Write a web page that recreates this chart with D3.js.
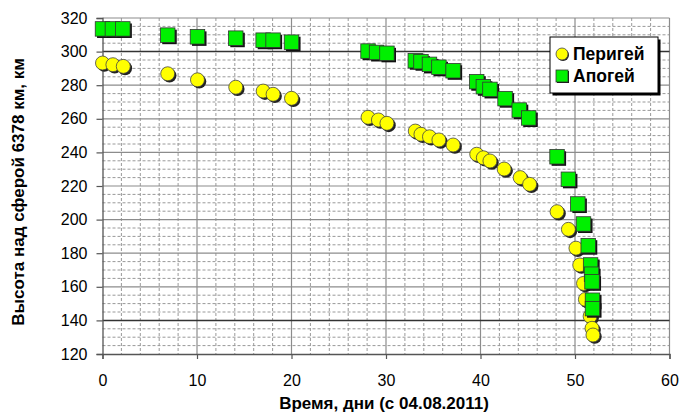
<!DOCTYPE html>
<html>
<head>
<meta charset="utf-8">
<script src="https://cdn.jsdelivr.net/npm/d3@7"></script>
<style>
  body { margin: 0; background: #fff; }
  svg { display: block; font-family: "Liberation Sans", Arial, sans-serif; }
</style>
</head>
<body>
<svg id="chart" width="680" height="414"></svg>
<script>
// ---- data ----
const perigeeDays = [0, 1.1, 2.2, 6.9, 10.05, 14.1, 17.0, 18.05, 20.0, 28.1, 29.2, 30.1, 33.1, 33.7, 34.6, 35.6, 37.1, 39.6, 40.3, 41.0, 42.5, 44.2, 45.2, 48.1, 49.3, 50.1, 50.5, 50.9, 51.1, 51.6, 51.8, 51.9];
const perigeeAlt  = [293.2, 292.2, 291.2, 286.8, 283.2, 278.8, 276.5, 274.6, 272.2, 260.9, 259.3, 257.3, 252.7, 250.8, 249.3, 247.4, 244.4, 238.9, 236.8, 234.9, 230.1, 225, 221, 204.7, 194.2, 183, 173, 162, 152.5, 142.5, 135.3, 131.3];
const apogeeDays = [0, 1.05, 2.15, 6.9, 10.05, 14.1, 17.0, 18.05, 20.0, 28.1, 29.0, 30.1, 33.1, 33.7, 34.6, 35.6, 37.1, 39.6, 40.3, 41.0, 42.6, 44.1, 45.1, 48.1, 49.3, 50.3, 50.9, 51.4, 51.65, 51.75, 51.8, 51.85, 51.85];
const apogeeAlt  = [313.5, 313.5, 313.5, 309.8, 308.8, 308, 306.8, 306.8, 305.6, 300.3, 299.5, 299, 294.6, 294, 292.4, 290.7, 288.6, 282.1, 279.1, 277.5, 272, 265.2, 260.5, 237.4, 224, 209.3, 197.4, 184.5, 173, 167.5, 163, 152, 147];
const xTicks = [0, 10, 20, 30, 40, 50, 60];
const yTicks = [120, 140, 160, 180, 200, 220, 240, 260, 280, 300, 320];
const xMinor = d3.range(0, 61, 2);
const yMinor = d3.range(120, 321, 5);
const darkLines = [300, 140];
const seriesNames = ["Перигей", "Апогей"];
const xTitle = "Время, дни (с 04.08.2011)";
const yTitle = "Высота над сферой 6378 км, км";

// ---- layout ----
const svg = d3.select("#chart");
const L = 102.5, R = 669.5, T = 18, B = 354;
const x = d3.scaleLinear().domain([0, 60]).range([L, R]);
const y = d3.scaleLinear().domain([120, 320]).range([B, T]);

const grid = svg.append("g");
// minor dashed
grid.selectAll("line.vm").data(xMinor.filter(v => v % 10 !== 0)).join("line")
  .attr("x1", d => x(d)).attr("x2", d => x(d)).attr("y1", T).attr("y2", B)
  .attr("stroke", "#999").attr("stroke-width", 1).attr("stroke-dasharray", "3,2");
grid.selectAll("line.hm").data(yMinor.filter(v => v % 20 !== 0)).join("line")
  .attr("y1", d => y(d)).attr("y2", d => y(d)).attr("x1", L).attr("x2", R)
  .attr("stroke", "#999").attr("stroke-width", 1).attr("stroke-dasharray", "3,2");
// major solid
grid.selectAll("line.vM").data(xTicks.slice(1)).join("line")
  .attr("x1", d => x(d)).attr("x2", d => x(d)).attr("y1", T).attr("y2", B)
  .attr("stroke", "#8c8c8c").attr("stroke-width", 1.2);
grid.selectAll("line.hM").data(yTicks.slice(1).filter(v => !darkLines.includes(v))).join("line")
  .attr("y1", d => y(d)).attr("y2", d => y(d)).attr("x1", L).attr("x2", R)
  .attr("stroke", "#8c8c8c").attr("stroke-width", 1.2);
grid.selectAll("line.hD").data(darkLines).join("line")
  .attr("y1", d => y(d)).attr("y2", d => y(d)).attr("x1", L).attr("x2", R)
  .attr("stroke", "#333").attr("stroke-width", 1.5);

// axes
const xAxis = svg.append("g").attr("transform", `translate(0,${B})`)
  .call(d3.axisBottom(x).tickValues(xTicks).tickSize(5).tickPadding(16).tickFormat(d3.format("d")));
const yAxis = svg.append("g").attr("transform", `translate(${L},0)`)
  .call(d3.axisLeft(y).tickValues(yTicks).tickSize(6).tickPadding(9).tickFormat(d3.format("d")));
[xAxis, yAxis].forEach(a => {
  a.select(".domain").attr("stroke", "#555").attr("stroke-width", 1.3);
  a.selectAll(".tick line").attr("stroke", "#555").attr("stroke-width", 1.2);
  a.selectAll(".tick text").attr("font-size", 16).attr("fill", "#000")
    .attr("font-family", "'Liberation Sans', Arial, sans-serif");
});

// markers
const per = perigeeDays.map((d, i) => ({ x: d, y: perigeeAlt[i] }));
const apo = apogeeDays.map((d, i) => ({ x: d, y: apogeeAlt[i] }));
const r = 7, s = 14.5;

const pg = svg.append("g");
per.forEach(p => {
  pg.append("circle").attr("cx", x(p.x) + 1.8).attr("cy", y(p.y) + 1.8).attr("r", r)
    .attr("fill", "#222");
  pg.append("circle").attr("cx", x(p.x)).attr("cy", y(p.y)).attr("r", r)
    .attr("fill", "#ffff00").attr("stroke", "#444").attr("stroke-width", 0.8);
});
const ag = svg.append("g");
apo.forEach(p => {
  ag.append("rect").attr("x", x(p.x) - s / 2 + 1.8).attr("y", y(p.y) - s / 2 + 1.8)
    .attr("width", s).attr("height", s).attr("fill", "#111");
  ag.append("rect").attr("x", x(p.x) - s / 2).attr("y", y(p.y) - s / 2)
    .attr("width", s).attr("height", s)
    .attr("fill", "#00f000").attr("stroke", "#333").attr("stroke-width", 0.8);
});

// legend
const lg = svg.append("g");
const lx = 550, ly = 37, lw = 108, lh = 56;
lg.append("rect").attr("x", lx + 2.5).attr("y", ly + 2.5).attr("width", lw).attr("height", lh).attr("fill", "#000");
lg.append("rect").attr("x", lx).attr("y", ly).attr("width", lw).attr("height", lh)
  .attr("fill", "#fff").attr("stroke", "#000").attr("stroke-width", 1);
lg.append("circle").attr("cx", lx + 12 + 1).attr("cy", ly + 17 + 1).attr("r", 6).attr("fill", "#222");
lg.append("circle").attr("cx", lx + 12).attr("cy", ly + 17).attr("r", 6)
  .attr("fill", "#ffff00").attr("stroke", "#444").attr("stroke-width", 0.8);
lg.append("rect").attr("x", lx + 6 + 1).attr("y", ly + 33 + 1).attr("width", 12).attr("height", 12).attr("fill", "#111");
lg.append("rect").attr("x", lx + 6).attr("y", ly + 33).attr("width", 12).attr("height", 12)
  .attr("fill", "#00f000").attr("stroke", "#333").attr("stroke-width", 0.8);
lg.selectAll("text").data(seriesNames).join("text")
  .attr("x", lx + 23).attr("y", (d, i) => ly + 23 + i * 22)
  .attr("font-size", 17.5).attr("font-weight", "bold").attr("fill", "#000").text(d => d);

// titles
svg.append("text").attr("x", (L + R) / 2 - 2).attr("y", 409).attr("text-anchor", "middle")
  .attr("font-size", 17).attr("font-weight", "bold").text(xTitle);
svg.append("text").attr("transform", `translate(24,${(T + B) / 2 + 6}) rotate(-90)`)
  .attr("text-anchor", "middle").attr("font-size", 17).attr("font-weight", "bold").text(yTitle);
</script>
</body>
</html>
